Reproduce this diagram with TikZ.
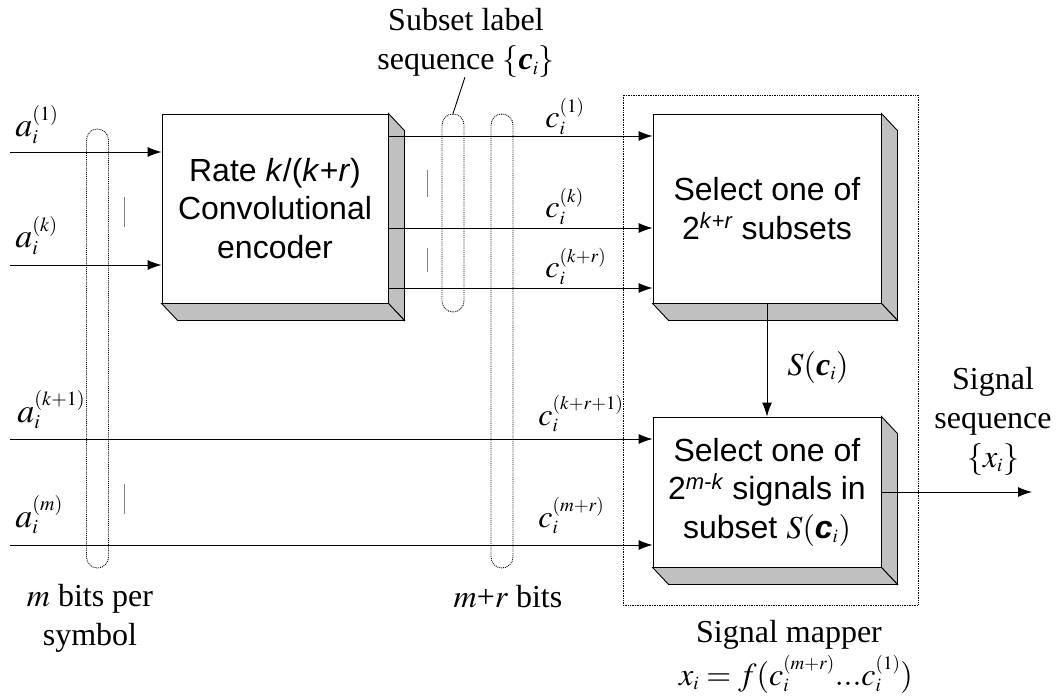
\documentclass[tikz,border=0pt]{standalone}
\usepackage{mathptmx}
\usepackage{fontspec}
\setmainfont{Liberation Serif}
\setsansfont{Liberation Sans}
\usetikzlibrary{arrows.meta}
\DeclareMathSizes{32}{32}{19}{15}
\DeclareMathSizes{34}{34}{20}{16}
\definecolor{shade}{RGB}{192,192,192}
\tikzset{
	arr/.style={-{Latex[length=14pt,width=10pt]}},
	blk/.style={draw,fill=white,align=center,inner sep=0pt,font=\sffamily\fontsize{32}{38.5}\selectfont},
	bus/.style={draw,densely dotted,rounded corners=11pt,minimum width=22pt,inner sep=0pt},
	lbl/.style={inner sep=0pt,font=\fontsize{32}{39}\selectfont},
	big/.style={font=\fontsize{34}{39}\selectfont},
	tick/.style={gray,line width=0.8pt}
}
\newcommand{\bc}{\mbox{\bfseries\itshape c}}
\newcommand{\boxsup}[1]{\raisebox{10.5pt}{\fontsize{22}{22}\selectfont #1}}
\newcommand{\boxshadow}[1]{%
	\filldraw[fill=shade](#1.north east)--++(16,17)--([shift={(16,17)}]#1.south east)--(#1.south east)--cycle;
	\filldraw[fill=shade](#1.south west)--++(16,17)--([shift={(16,17)}]#1.south east)--(#1.south east)--cycle;}
\begin{document}
\begin{tikzpicture}[x=1pt,y=-1pt,line width=0.9pt]
	\useasboundingbox(0,0)rectangle(1056,700);
	\node[draw,densely dotted,line width=0.7pt,minimum width=295pt,minimum height=510pt,inner sep=0pt](mapper)at(770.5,350){};
	\node[blk,minimum width=226pt,minimum height=189pt](enc)at(275,208.5){Rate \textit{k}/(\textit{k}+\textit{r})\\Convolutional\\encoder};
	\node[blk,minimum width=228pt,minimum height=189pt](sel1)at(767,208.5){Select one of\\2\boxsup{\textit{k}+\textit{r}} subsets};
	\node[blk,minimum width=228pt,minimum height=150pt](sel2)at(767,492){Select one of\\2\boxsup{\textit{m}-\textit{k}} signals in\\subset $S(\bc_i)$};
	\boxshadow{enc}
	\boxshadow{sel1}
	\boxshadow{sel2}
	\node[bus,minimum height=439pt](bus1)at(97.5,348.5){};
	\node[bus,minimum height=198pt](bus2)at(453,213){};
	\node[bus,minimum height=454pt](bus3)at(502,341){};
	\coordinate(in1)at(10,152);
	\coordinate(ink)at(10,265);
	\coordinate(ink1)at(10,439);
	\coordinate(inm)at(10,545);
	\coordinate(out1)at(388,136);
	\coordinate(outk)at(388,228);
	\coordinate(outkr)at(388,288);
	\coordinate(xout)at(1032,492);
	\coordinate(ptr)at(465,77);
	\draw[arr](in1)--(enc.west|-in1);
	\draw[arr](ink)--(enc.west|-ink);
	\draw[arr](ink1)--(sel2.west|-ink1);
	\draw[arr](inm)--(sel2.west|-inm);
	\draw[arr](out1)--(sel1.west|-out1);
	\draw[arr](outk)--(sel1.west|-outk);
	\draw[arr](outkr)--(sel1.west|-outkr);
	\draw[arr](sel1.south)--(sel2.north);
	\draw[arr](sel2.east)--(xout);
	\draw(ptr)--(bus2.north);
	\draw[tick](124,197)--(124,227);
	\draw[tick](124,484)--(124,514);
	\draw[tick](427,170)--(427,197);
	\draw[tick](427,248)--(427,272);
	\node[lbl,big,anchor=base west](la1)at(15,137){$a_i^{(1)}$};
	\node[lbl,big,anchor=base west](lak)at(15,248){$a_i^{(k)}$};
	\node[lbl,big,anchor=base west](lak1)at(17,422){$a_i^{(k+1)}$};
	\node[lbl,big,anchor=base west](lam)at(15,527){$a_i^{(m)}$};
	\node[lbl,anchor=base west](lc1)at(545,128){$c_i^{(1)}$};
	\node[lbl,anchor=base west](lck)at(545,218){$c_i^{(k)}$};
	\node[lbl,anchor=base west](lckr)at(545,278){$c_i^{(k+r)}$};
	\node[lbl,anchor=base west](lckr1)at(538,425){$c_i^{(k+r+1)}$};
	\node[lbl,anchor=base west](lcmr)at(538,527){$c_i^{(m+r)}$};
	\node[lbl,anchor=base,align=center](subset)at(466,70){Subset label\\sequence $\{\bc_i\}$};
	\node[lbl,anchor=base](sci)at(818,375){$S(\bc_i)$};
	\node[lbl,anchor=base,align=center](sigseq)at(993,467){Signal\\sequence\\$\{x_i\}$};
	\node[lbl,anchor=base,align=center](mbits)at(90,645){$m$ bits per\\symbol};
	\node[lbl,anchor=base](mrbits)at(508,607){$m$+$r$ bits};
	\node[lbl,anchor=base](smap)at(789,642){Signal mapper};
	\node[lbl,anchor=base](fmap)at(796,685){$x_i=f(c_i^{(m+r)}...c_i^{(1)})$};
\end{tikzpicture}
\end{document}
